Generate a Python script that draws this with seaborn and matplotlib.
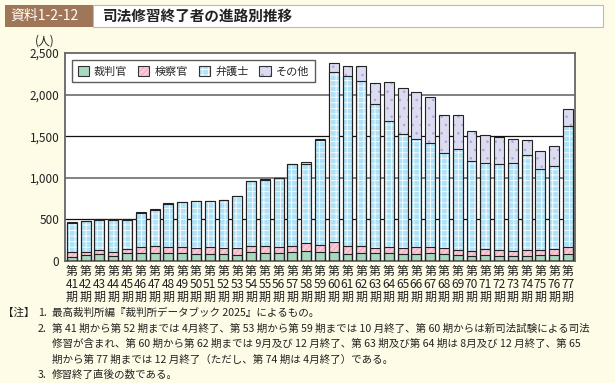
import matplotlib
matplotlib.use("Agg")
import matplotlib.pyplot as plt
import matplotlib.patches as mpatches
from matplotlib.legend_handler import HandlerTuple
import seaborn as sns
import pandas as pd
import numpy as np

periods = list(range(41, 78))
tick_labels = ["第\n%d\n期" % p for p in periods]

judges = [48, 73, 89, 60, 93, 97, 93, 93, 97, 85, 89, 81, 73, 109, 97, 93, 105, 117, 109,
          113, 89, 97, 93, 93, 81, 85, 93, 81, 69, 56, 73, 64, 56, 64, 69, 73, 81]
prosecutors = [61, 36, 44, 49, 48, 76, 84, 72, 68, 72, 76, 72, 80, 68, 80, 76, 72, 97, 84,
               113, 92, 80, 68, 72, 72, 80, 72, 76, 68, 69, 68, 65, 65, 73, 68, 76, 84]
lawyers = [349, 370, 362, 390, 358, 408, 440, 520, 540, 560, 552, 576, 625, 780, 796, 824, 985, 956, 1262,
           2047, 2044, 1987, 1725, 1524, 1378, 1298, 1254, 1137, 1205, 1080, 1036, 1036, 1052, 1136, 971, 996, 1459]
others = [5, 5, 5, 5, 5, 7, 8, 8, 8, 8, 8, 8, 8, 10, 10, 10, 10, 15, 15,
          105, 116, 185, 258, 459, 544, 568, 548, 467, 419, 359, 338, 322, 290, 182, 210, 241, 198]

series_names = ["裁判官", "検察官", "弁護士", "その他"]

df = pd.DataFrame({"label": tick_labels, "裁判官": judges, "検察官": prosecutors,
                   "弁護士": lawyers, "その他": others})
cum = df[series_names].cumsum(axis=1)

styles = {
    "裁判官": dict(face="#A6D9C0", hatch=None, hcol="#A6D9C0"),
    "検察官": dict(face="#F9CBD6", hatch="//////", hcol="#F2A3B5"),
    "弁護士": dict(face="#AEE2F8", hatch="+++", hcol="#FFFFFF"),
    "その他": dict(face="#DCDCF0", hatch="..", hcol="#A9A9DD"),
}

bg = "#FEFCE6"
plt.rcParams["hatch.linewidth"] = 0.6

fig = plt.figure(figsize=(6.15, 3.83), dpi=100)
fig.patch.set_facecolor(bg)
sns.set_style("white")
plt.rcParams["font.family"] = ["Noto Sans CJK JP", "DejaVu Sans"]

ax = fig.add_axes([0.1057, 0.3185, 0.829, 0.543])
ax.set_facecolor("white")

for y, c, lw in [(500, "#111111", 0.9), (1000, "#777777", 1.3), (1500, "#111111", 0.9), (2000, "#777777", 1.3)]:
    ax.axhline(y, color=c, lw=lw, zorder=0)

# stacked bars: draw cumulative heights from the top layer down
for name in reversed(series_names):
    st = styles[name]
    sns.barplot(x=df["label"], y=cum[name], color=st["face"], saturation=1, width=0.72,
                hatch=st["hatch"], edgecolor=st["hcol"], linewidth=0, ax=ax, zorder=2)
for name in reversed(series_names):
    sns.barplot(x=df["label"], y=cum[name], fill=False, width=0.72,
                edgecolor="#222222", linewidth=0.8, ax=ax, zorder=3)

ax.set_xlim(-0.5, len(periods) - 0.5)
ax.set_ylim(0, 2500)
ax.set_yticks([0, 500, 1000, 1500, 2000, 2500])
ax.set_yticklabels(["0", "500", "1,000", "1,500", "2,000", "2,500"], fontsize=8.5, color="#222222")
ax.tick_params(axis="x", labelsize=8.6, length=0, pad=3, colors="#222222")
ax.tick_params(axis="y", length=0, pad=4)
for lab in ax.get_xticklabels():
    lab.set_linespacing(1.0)
ax.set_xlabel("")
ax.set_ylabel("")
for sp in ax.spines.values():
    sp.set_color("#666666")
    sp.set_linewidth(1.3)

handles = []
for name in series_names:
    st = styles[name]
    fill = mpatches.Patch(facecolor=st["face"], hatch=st["hatch"], edgecolor=st["hcol"], linewidth=0)
    edge = mpatches.Patch(facecolor="none", edgecolor="#333333", linewidth=0.8)
    handles.append((fill, edge))
leg = ax.legend(handles, series_names, loc="upper left", bbox_to_anchor=(0.014, 0.965), ncol=4,
                fontsize=8, frameon=True, fancybox=False, edgecolor="#333333",
                handler_map={tuple: HandlerTuple(ndivide=1)},
                handlelength=1.0, handleheight=1.0, handletextpad=0.45, columnspacing=1.0,
                borderpad=0.5, borderaxespad=0)
leg.get_frame().set_linewidth(1.0)
leg.set_zorder(10)

fig.text(45 / 615, 1 - 41 / 383, "(人)", fontsize=8.5, ha="center", va="center", color="#222222")

# title bar
fig.patches.append(mpatches.Rectangle((5 / 615, 1 - 27 / 383), 88 / 615, 22 / 383,
                                      transform=fig.transFigure, facecolor="#A07658", edgecolor="none"))
fig.patches.append(mpatches.Rectangle((93 / 615, 1 - 27 / 383), 510 / 615, 22 / 383,
                                      transform=fig.transFigure, facecolor="white", edgecolor="#BBBBBB", lw=0.8))
fig.text(10 / 615, 1 - 16 / 383, "資料1-2-12", fontsize=10, color="white", va="center", ha="left")
fig.text(103 / 615, 1 - 16 / 383, "司法修習終了者の進路別推移", fontsize=10.5, fontweight="bold",
         color="#222222", va="center", ha="left")

notes = [
    (313, "1.", "最高裁判所編『裁判所データブック 2025』によるもの。"),
    (329, "2.", "第 41 期から第 52 期までは 4月終了、第 53 期から第 59 期までは 10 月終了、第 60 期からは新司法試験による司法"),
    (344, "", "修習が含まれ、第 60 期から第 62 期までは 9月及び 12 月終了、第 63 期及び第 64 期は 8月及び 12 月終了、第 65"),
    (360, "", "期から第 77 期までは 12 月終了（ただし、第 74 期は 4月終了）である。"),
    (375, "3.", "修習終了直後の数である。"),
]
fig.text(3 / 615, 1 - 313 / 383, "【注】", fontsize=7.6, color="#222222", va="center", ha="left")
for y, num, txt in notes:
    if num:
        fig.text(38 / 615, 1 - y / 383, num, fontsize=7.6, color="#222222", va="center", ha="left")
    fig.text(52 / 615, 1 - y / 383, txt, fontsize=7.6, color="#222222", va="center", ha="left")

fig.savefig("out.png", dpi=100, facecolor=bg)
